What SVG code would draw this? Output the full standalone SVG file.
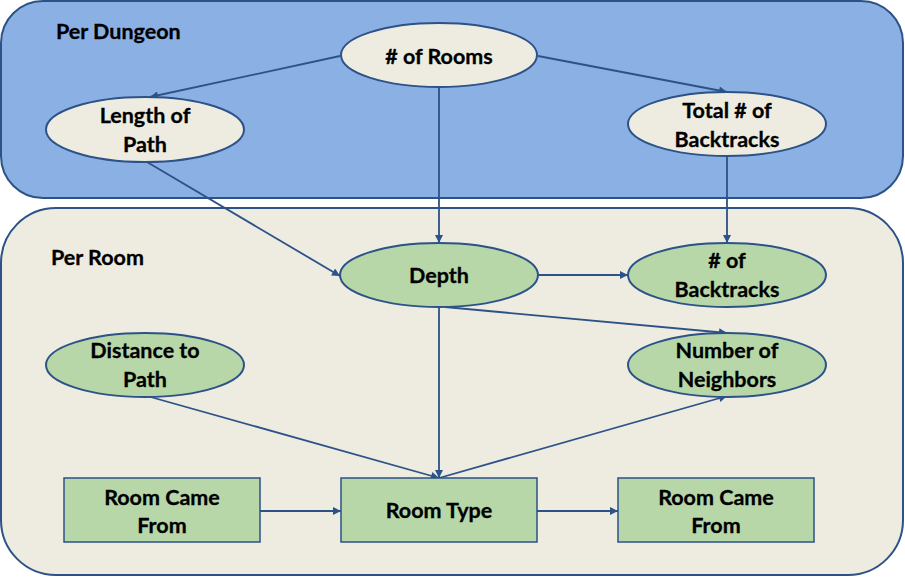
<svg xmlns="http://www.w3.org/2000/svg" width="905" height="577" viewBox="0 0 905 577">
<style>
.box{stroke:#2C5287;stroke-width:2}
.top{fill:#8BB0E3}
.bot{fill:#EEEBE1}
.beige{fill:#EEECE1;stroke:#2C5287;stroke-width:2}
.green{fill:#B7D7A8;stroke:#2C5287;stroke-width:2}
.rect{fill:#B7D7A8;stroke:#2C5287;stroke-width:1.5}
.t{font-family:Lato,"Liberation Sans",sans-serif;font-weight:bold;font-size:21.5px;fill:#000;stroke:#000;stroke-width:0.3;text-anchor:middle}
.h{font-family:Lato,"Liberation Sans",sans-serif;font-weight:bold;font-size:21.5px;fill:#000;stroke:#000;stroke-width:0.3}
.c{stroke:#2C5287;stroke-width:1.8;fill:none;marker-end:url(#ah)}
</style>
<defs>
<marker id="ah" viewBox="0 0 10 10" refX="10" refY="5" markerWidth="10" markerHeight="8" markerUnits="userSpaceOnUse" orient="auto">
<path d="M0,0 L10,5 L0,10 z" fill="#2C5287"/>
</marker>
</defs>
<g id="per-dungeon">
<rect class="box top" x="1" y="1" width="902" height="197" rx="42" ry="42"/>
<text class="h" x="56" y="39">Per Dungeon</text>
</g>
<g id="per-room">
<rect class="box bot" x="1" y="208" width="902" height="367" rx="55" ry="55"/>
<text class="h" x="51" y="265">Per Room</text>
</g>
<g id="connectors">
<line class="c" x1="340" y1="56" x2="150" y2="97"/>
<line class="c" x1="538" y1="56" x2="727" y2="92"/>
<line class="c" x1="439" y1="87" x2="439" y2="243"/>
<line class="c" x1="147" y1="162" x2="340" y2="276"/>
<line class="c" x1="727" y1="156" x2="727" y2="243"/>
<line class="c" x1="538" y1="275" x2="628" y2="275"/>
<line class="c" x1="445" y1="307" x2="727" y2="333"/>
<line class="c" x1="439" y1="307" x2="439" y2="478"/>
<line class="c" x1="147" y1="396" x2="439" y2="478"/>
<line class="c" x1="439" y1="478" x2="727" y2="396"/>
<line class="c" x1="260" y1="511" x2="341" y2="511"/>
<line class="c" x1="537" y1="511" x2="618" y2="511"/>
</g>
<g id="num-rooms">
<ellipse class="beige" cx="439" cy="55" rx="98" ry="32"/>
<text class="t" x="439" y="64">&#35; of Rooms</text>
</g>
<g id="length-of-path">
<ellipse class="beige" cx="145" cy="129.5" rx="99" ry="32.5"/>
<text class="t" x="145" y="123">Length of</text>
<text class="t" x="145" y="152">Path</text>
</g>
<g id="total-backtracks">
<ellipse class="beige" cx="727" cy="124" rx="99" ry="32"/>
<text class="t" x="727" y="118">Total &#35; of</text>
<text class="t" x="727" y="147">Backtracks</text>
</g>
<g id="depth">
<ellipse class="green" cx="439" cy="275" rx="99" ry="32"/>
<text class="t" x="439" y="283">Depth</text>
</g>
<g id="backtracks">
<ellipse class="green" cx="727" cy="275" rx="99" ry="32"/>
<text class="t" x="727" y="268">&#35; of</text>
<text class="t" x="727" y="297">Backtracks</text>
</g>
<g id="distance-to-path">
<ellipse class="green" cx="145" cy="365" rx="99" ry="32"/>
<text class="t" x="145" y="358">Distance to</text>
<text class="t" x="145" y="387">Path</text>
</g>
<g id="number-of-neighbors">
<ellipse class="green" cx="727" cy="365" rx="99" ry="32"/>
<text class="t" x="727" y="358">Number of</text>
<text class="t" x="727" y="387">Neighbors</text>
</g>
<g id="room-came-from-1">
<rect class="rect" x="64" y="478" width="196" height="64"/>
<text class="t" x="162" y="505">Room Came</text>
<text class="t" x="162" y="533">From</text>
</g>
<g id="room-type">
<rect class="rect" x="341" y="478" width="196" height="64"/>
<text class="t" x="439" y="518">Room Type</text>
</g>
<g id="room-came-from-2">
<rect class="rect" x="618" y="478" width="196" height="64"/>
<text class="t" x="716" y="505">Room Came</text>
<text class="t" x="716" y="533">From</text>
</g>
</svg>
